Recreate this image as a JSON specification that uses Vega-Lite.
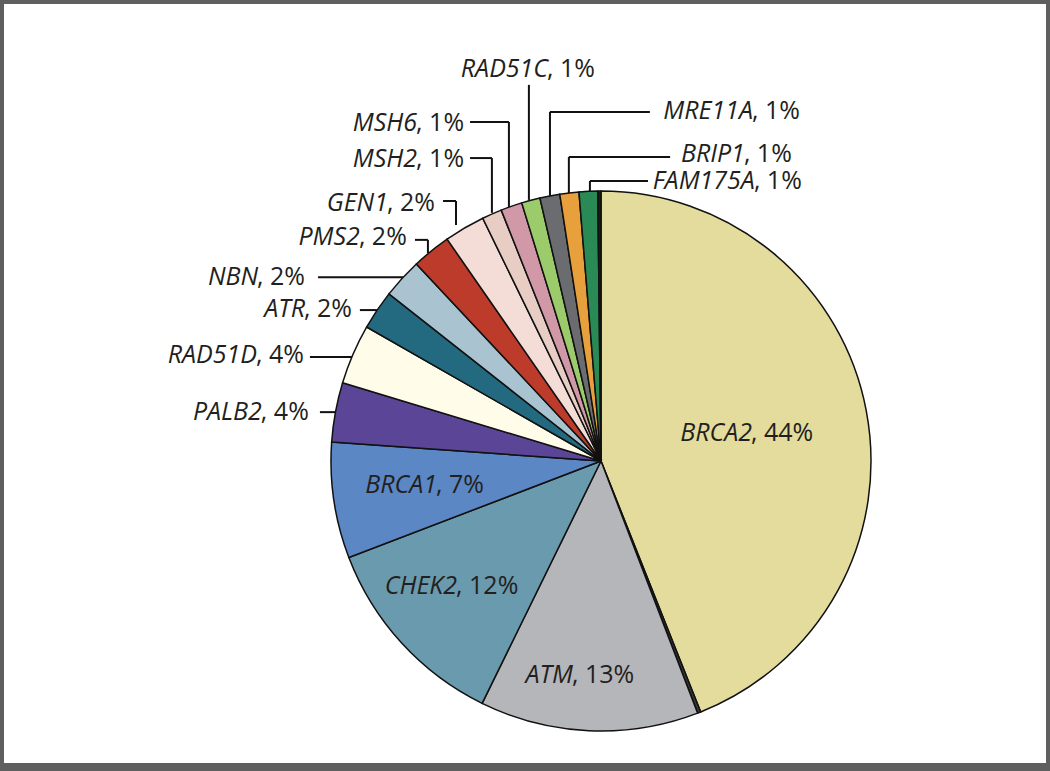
{
  "$schema": "https://vega.github.io/schema/vega-lite/v6.json",
  "width": 1050,
  "height": 771,
  "autosize": {"type": "fit", "contains": "padding"},
  "padding": {"left": 0, "top": 0, "right": 0, "bottom": 4},
  "background": "white",
  "config": {"view": {"stroke": "#5f5f5f", "strokeWidth": 8}},
  "datasets": {
    "slices": [
      {"gene": "BRCA2", "pct": 43.97, "order": 1},
      {"gene": "sep-b", "pct": 0.19, "order": 2},
      {"gene": "ATM", "pct": 13.08, "order": 3},
      {"gene": "CHEK2", "pct": 11.92, "order": 4},
      {"gene": "BRCA1", "pct": 6.94, "order": 5},
      {"gene": "PALB2", "pct": 3.56, "order": 6},
      {"gene": "RAD51D", "pct": 3.58, "order": 7},
      {"gene": "ATR", "pct": 2.36, "order": 8},
      {"gene": "NBN", "pct": 2.39, "order": 9},
      {"gene": "PMS2", "pct": 2.33, "order": 10},
      {"gene": "GEN1", "pct": 2.44, "order": 11},
      {"gene": "MSH2", "pct": 1.19, "order": 12},
      {"gene": "MSH6", "pct": 1.28, "order": 13},
      {"gene": "RAD51C", "pct": 1.11, "order": 14},
      {"gene": "MRE11A", "pct": 1.19, "order": 15},
      {"gene": "BRIP1", "pct": 1.14, "order": 16},
      {"gene": "FAM175A", "pct": 1.11, "order": 17},
      {"gene": "sep-a", "pct": 0.19, "order": 18}
    ],
    "labels": [
      {"gene": "BRCA2", "part": ", 44%", "sx": 55.9, "sy": 7.4},
      {"gene": "ATM", "part": ", 13%", "sx": -10.4, "sy": -82.2},
      {"gene": "CHEK2", "part": ", 12%", "sx": -53.3, "sy": -49.3},
      {"gene": "BRCA1", "part": ", 7%", "sx": -60.7, "sy": -11.9},
      {"gene": "PALB2", "part": ", 4%", "sx": -125.6, "sy": 15.2},
      {"gene": "RAD51D", "part": ", 4%", "sx": -127.4, "sy": 36.3},
      {"gene": "ATR", "part": ", 2%", "sx": -109.6, "sy": 53.3},
      {"gene": "NBN", "part": ", 2%", "sx": -127.0, "sy": 65.2},
      {"gene": "PMS2", "part": ", 2%", "sx": -89.3, "sy": 80.0},
      {"gene": "GEN1", "part": ", 2%", "sx": -78.9, "sy": 92.6},
      {"gene": "MSH2", "part": ", 1%", "sx": -68.1, "sy": 108.9},
      {"gene": "MSH6", "part": ", 1%", "sx": -68.1, "sy": 122.2},
      {"gene": "RAD51C", "part": ", 1%", "sx": -19.6, "sy": 142.2},
      {"gene": "MRE11A", "part": ", 1%", "sx": 56.3, "sy": 126.7},
      {"gene": "BRIP1", "part": ", 1%", "sx": 53.3, "sy": 110.7},
      {"gene": "FAM175A", "part": ", 1%", "sx": 57.0, "sy": 100.7}
    ],
    "leaders": [
      {"gene": "RAD51C", "x1": -26.7, "y1": 139.3, "x2": -26.7, "y2": 96.7},
      {"gene": "MSH6", "x1": -48.5, "y1": 125.6, "x2": -34.1, "y2": 125.6},
      {"gene": "MSH6", "x1": -34.1, "y1": 125.6, "x2": -34.1, "y2": 94.1},
      {"gene": "MSH2", "x1": -48.5, "y1": 112.2, "x2": -40.4, "y2": 112.2},
      {"gene": "MSH2", "x1": -40.4, "y1": 112.2, "x2": -40.4, "y2": 91.9},
      {"gene": "GEN1", "x1": -58.5, "y1": 96.3, "x2": -53.7, "y2": 96.3},
      {"gene": "GEN1", "x1": -53.7, "y1": 96.3, "x2": -53.7, "y2": 87.4},
      {"gene": "PMS2", "x1": -68.9, "y1": 81.9, "x2": -64.1, "y2": 81.9},
      {"gene": "PMS2", "x1": -64.1, "y1": 81.9, "x2": -64.1, "y2": 77.0},
      {"gene": "NBN", "x1": -104.8, "y1": 68.1, "x2": -73.3, "y2": 68.1},
      {"gene": "ATR", "x1": -89.3, "y1": 55.9, "x2": -83.0, "y2": 55.9},
      {"gene": "RAD51D", "x1": -107.8, "y1": 38.5, "x2": -92.2, "y2": 38.5},
      {"gene": "PALB2", "x1": -104.1, "y1": 18.1, "x2": -97.8, "y2": 18.1},
      {"gene": "MRE11A", "x1": 18.1, "y1": 129.3, "x2": -18.9, "y2": 129.3},
      {"gene": "MRE11A", "x1": -18.9, "y1": 129.3, "x2": -18.9, "y2": 97.8},
      {"gene": "BRIP1", "x1": 25.6, "y1": 112.6, "x2": -11.9, "y2": 112.6},
      {"gene": "BRIP1", "x1": -11.9, "y1": 112.6, "x2": -11.9, "y2": 98.9},
      {"gene": "FAM175A", "x1": 17.4, "y1": 103.7, "x2": -4.1, "y2": 103.7},
      {"gene": "FAM175A", "x1": -4.1, "y1": 103.7, "x2": -4.1, "y2": 99.3}
    ]
  },
  "layer": [
    {
      "data": {"name": "leaders"},
      "mark": {"type": "rule", "stroke": "#111111", "strokeWidth": 2},
      "encoding": {
        "x": {"field": "x1", "type": "quantitative", "axis": null, "scale": {"domain": [-222.59, 166.3], "nice": false, "zero": false}},
        "y": {"field": "y1", "type": "quantitative", "axis": null, "scale": {"domain": [-113.33, 170.74], "nice": false, "zero": false}},
        "x2": {"field": "x2"},
        "y2": {"field": "y2"}
      }
    },
    {
      "data": {"name": "slices"},
      "mark": {"type": "arc", "outerRadius": 270, "stroke": "#111111", "strokeWidth": 1.5},
      "encoding": {
        "x": {"datum": 0, "type": "quantitative", "axis": null, "scale": {"domain": [-222.59, 166.3], "nice": false, "zero": false}},
        "y": {"datum": 0, "type": "quantitative", "axis": null, "scale": {"domain": [-113.33, 170.74], "nice": false, "zero": false}},
        "theta": {"field": "pct", "type": "quantitative", "stack": true},
        "order": {"field": "order", "type": "quantitative"},
        "color": {
          "field": "gene",
          "type": "nominal",
          "legend": null,
          "scale": {
            "domain": ["BRCA2", "sep-b", "ATM", "CHEK2", "BRCA1", "PALB2", "RAD51D", "ATR", "NBN", "PMS2", "GEN1", "MSH2", "MSH6", "RAD51C", "MRE11A", "BRIP1", "FAM175A", "sep-a"],
            "range": ["#e3dc9d", "#3a3a3a", "#b5b6b9", "#6a9aad", "#5b87c5", "#5b4597", "#fffdea", "#236a80", "#a9c3d0", "#bd3b2b", "#f4ddd6", "#e8cdc4", "#d198a8", "#9ccb6b", "#6b6c70", "#e8a03c", "#2a8a55", "#1a1a1a"]
          }
        }
      }
    },
    {
      "data": {"name": "labels"},
      "mark": {"type": "text", "align": "right", "baseline": "alphabetic", "font": "Open Sans", "fontSize": 25, "fontStyle": "italic", "fill": "#231f20"},
      "encoding": {
        "x": {"field": "sx", "type": "quantitative", "axis": null, "scale": {"domain": [-222.59, 166.3], "nice": false, "zero": false}},
        "y": {"field": "sy", "type": "quantitative", "axis": null, "scale": {"domain": [-113.33, 170.74], "nice": false, "zero": false}},
        "text": {"field": "gene"}
      }
    },
    {
      "data": {"name": "labels"},
      "mark": {"type": "text", "align": "left", "baseline": "alphabetic", "font": "Open Sans", "fontSize": 25, "fill": "#231f20", "dx": -1},
      "encoding": {
        "x": {"field": "sx", "type": "quantitative", "axis": null, "scale": {"domain": [-222.59, 166.3], "nice": false, "zero": false}},
        "y": {"field": "sy", "type": "quantitative", "axis": null, "scale": {"domain": [-113.33, 170.74], "nice": false, "zero": false}},
        "text": {"field": "part"}
      }
    }
  ]
}
